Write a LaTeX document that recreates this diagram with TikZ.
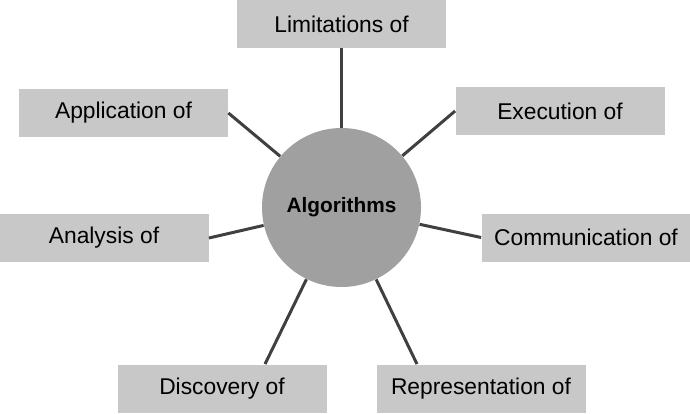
\documentclass[tikz,border=0pt]{standalone}
\usepackage{fontspec}
\setmainfont{Liberation Sans}
\usepackage{tikz}
\usetikzlibrary{shapes,positioning,calc}

\definecolor{boxgray}{HTML}{C8C8C8}
\definecolor{hubgray}{HTML}{A0A0A0}
\definecolor{linegray}{HTML}{404040}

\begin{document}
\begin{tikzpicture}[x=0.5pt,y=-0.5pt,
  topic/.style={rectangle,fill=boxgray,minimum width=104.5pt,minimum height=24pt,inner sep=0pt,font=\fontsize{11.4}{13}\selectfont},
  hub/.style={circle,fill=hubgray,minimum size=79.5pt,inner sep=0pt,font=\fontsize{10.4}{12}\selectfont\bfseries},
  spoke/.style={draw=linegray,line width=1.5pt}]
  \useasboundingbox (0,0) rectangle (690,413);
  \node [hub] (alg) at (341.5,207.5) {Algorithms};
  % topics round the hub
  \node [topic] (lim) at (341.5,24) {Limitations of};
  \node [topic] (app) at (123.5,113) {Application of};
  \node [topic] (exe) at (560,111) {Execution of};
  \node [topic] (ana) at (104,238) {Analysis of};
  \node [topic] (com) at (586,237.5) {Communication of};
  \node [topic] (dis) at (222,388.5) {Discovery of};
  \node [topic] (rep) at (481,388.5) {Representation of};
  % spokes
  \draw [spoke] (lim.south) -- (alg);
  \draw [spoke] (app.east) -- (alg);
  \draw [spoke] (exe.west) -- (alg);
  \draw [spoke] (ana.east) -- (alg);
  \draw [spoke] (com.west) -- (alg);
  \draw [spoke] ([xshift=21.5pt]dis.north) -- (alg);
  \draw [spoke] ([xshift=-32pt]rep.north) -- (alg);
\end{tikzpicture}
\end{document}
